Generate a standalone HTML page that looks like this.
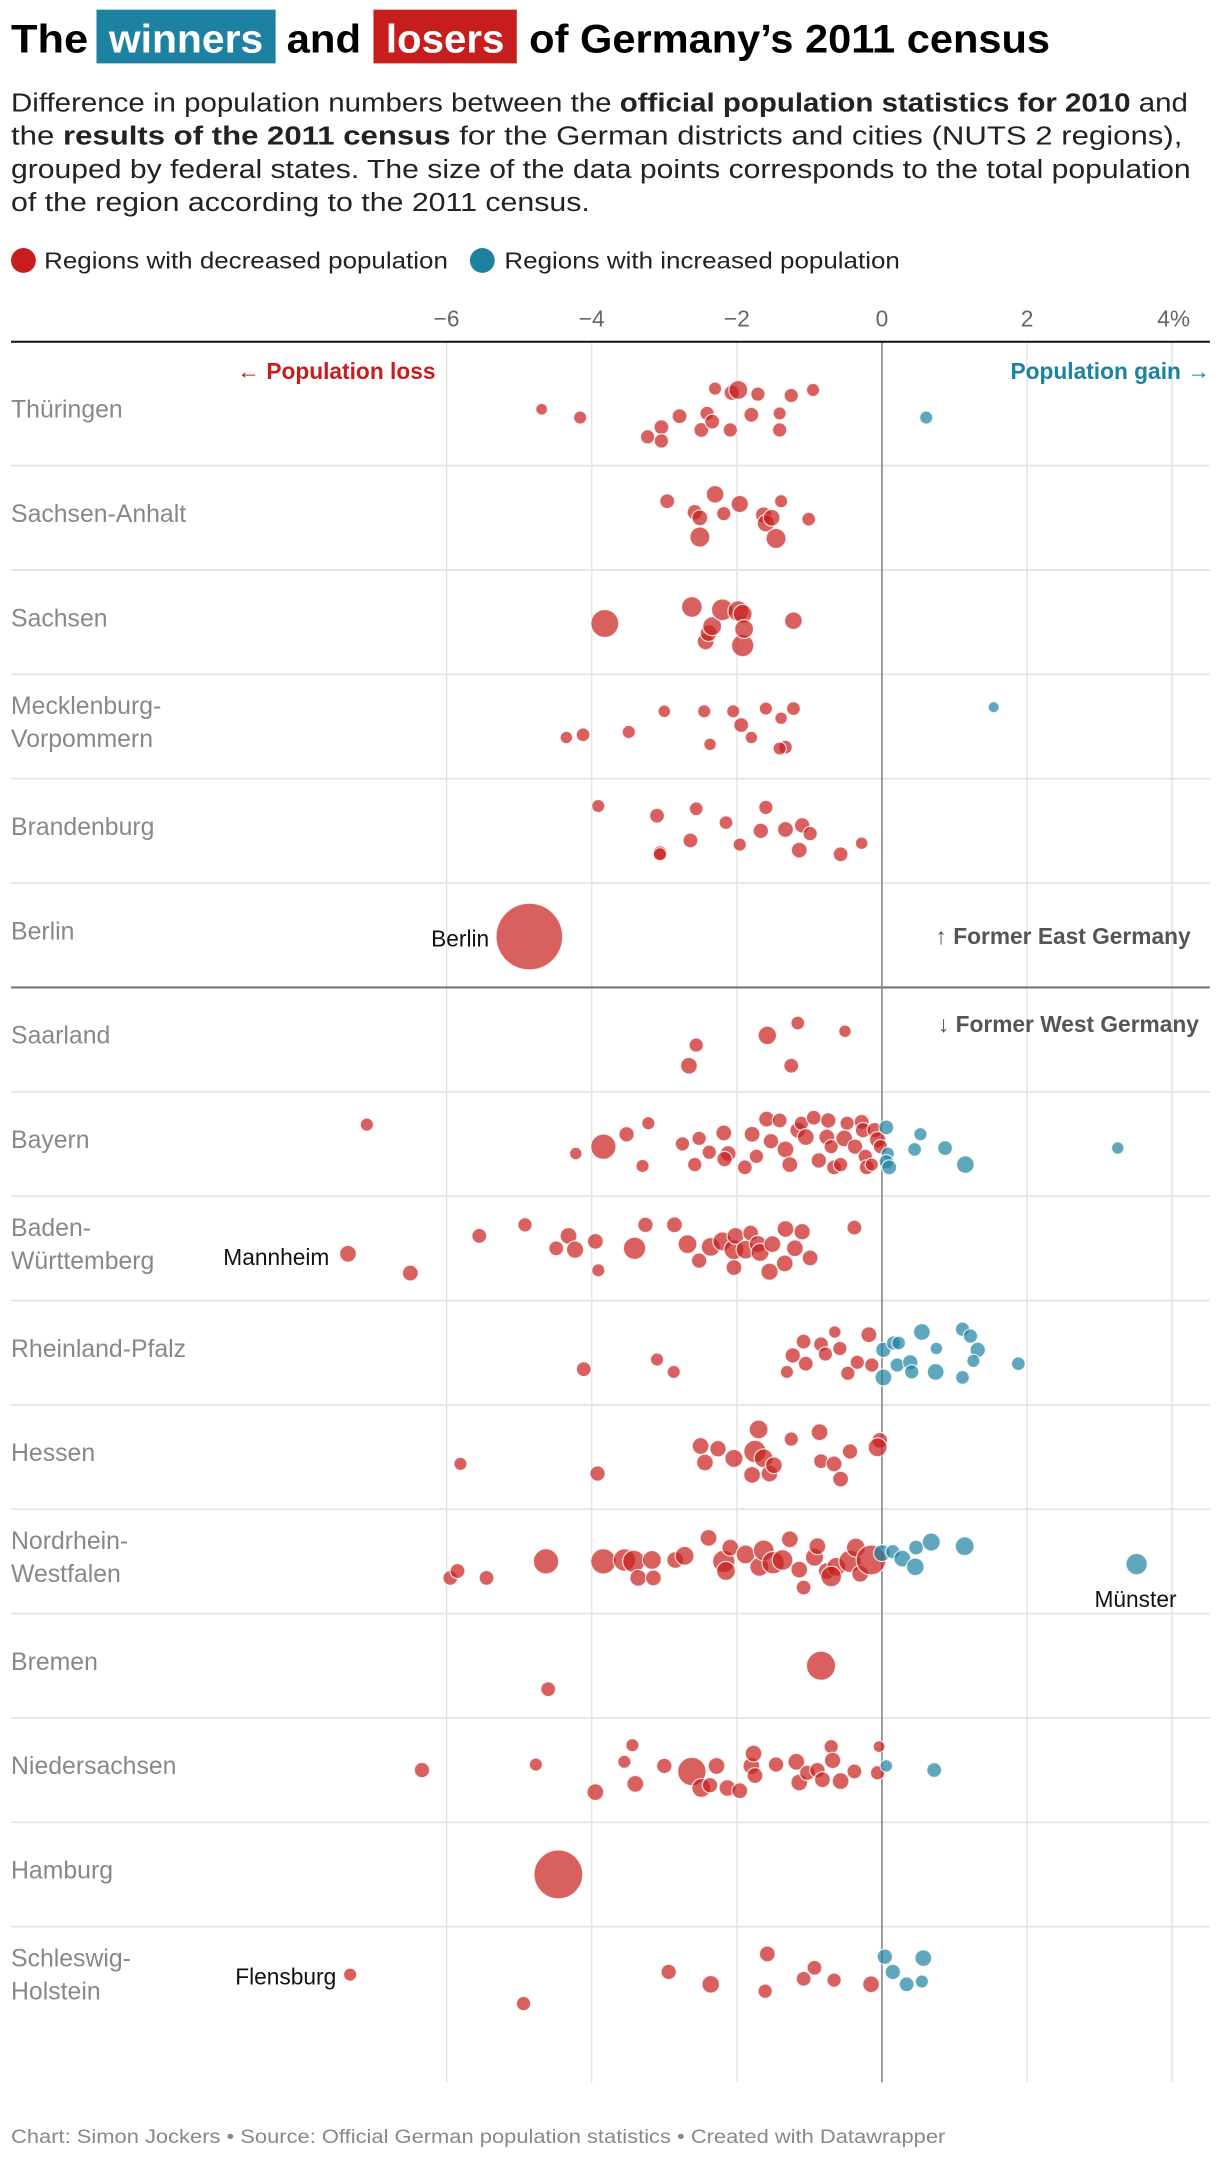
<!DOCTYPE html>
<html><head><meta charset="utf-8"><style>
html,body{margin:0;padding:0;background:#fff;}
svg{display:block;font-family:"Liberation Sans",sans-serif;}
</style></head><body>
<svg id="chart" width="1220" height="2158" viewBox="0 0 885.3 1566" xmlns="http://www.w3.org/2000/svg">
<g>
<text x="8" y="38" font-size="29" font-weight="bold" fill="#000" textLength="56" lengthAdjust="spacingAndGlyphs">The</text>
<rect x="70" y="7" width="130" height="39" fill="#1d81a2"/>
<text x="79" y="38" font-size="29" font-weight="bold" fill="#fff" textLength="112" lengthAdjust="spacingAndGlyphs">winners</text>
<text x="208" y="38" font-size="29" font-weight="bold" fill="#000" textLength="54" lengthAdjust="spacingAndGlyphs">and</text>
<rect x="271" y="7" width="104" height="39" fill="#c71e1d"/>
<text x="280" y="38" font-size="29" font-weight="bold" fill="#fff" textLength="86" lengthAdjust="spacingAndGlyphs">losers</text>
<text x="384" y="38" font-size="29" font-weight="bold" fill="#000" textLength="378" lengthAdjust="spacingAndGlyphs">of Germany’s 2011 census</text>
</g>
<g font-size="19" fill="#222">
<text x="8" y="81" textLength="854" lengthAdjust="spacingAndGlyphs">Difference in population numbers between the <tspan font-weight="bold">official population statistics for 2010</tspan> and</text>
<text x="8" y="105" textLength="850" lengthAdjust="spacingAndGlyphs">the <tspan font-weight="bold">results of the 2011 census</tspan> for the German districts and cities (NUTS 2 regions),</text>
<text x="8" y="129" textLength="856" lengthAdjust="spacingAndGlyphs">grouped by federal states. The size of the data points corresponds to the total population</text>
<text x="8" y="153" textLength="420" lengthAdjust="spacingAndGlyphs">of the region according to the 2011 census.</text>
</g>
<g font-size="17" fill="#222">
<circle cx="17" cy="189" r="9" fill="#c71e1d"/>
<text x="32" y="195" textLength="293" lengthAdjust="spacingAndGlyphs">Regions with decreased population</text>
<circle cx="350" cy="189" r="9" fill="#1d81a2"/>
<text x="366" y="195" textLength="287" lengthAdjust="spacingAndGlyphs">Regions with increased population</text>
</g>
<g id="grid"></g>
<g id="rows"></g>
<g id="dots"></g>
<g id="annos" font-weight="bold" font-size="16.5">
<text x="316" y="275" text-anchor="end" fill="#c71e1d">← Population loss</text>
<text x="878" y="275" text-anchor="end" fill="#1d81a2">Population gain →</text>
<text x="864" y="685" text-anchor="end" fill="#555">↑ Former East Germany</text>
<text x="870" y="749" text-anchor="end" fill="#555">↓ Former West Germany</text>
</g>
<g font-size="16.5" fill="#111">
<text x="355" y="687" text-anchor="end">Berlin</text>
<text x="239" y="918" text-anchor="end">Mannheim</text>
<text x="824" y="1166" text-anchor="middle">Münster</text>
<text x="244" y="1440" text-anchor="end">Flensburg</text>
</g>
<text x="8" y="1555" font-size="14" fill="#888" textLength="678" lengthAdjust="spacingAndGlyphs">Chart: Simon Jockers • Source: Official German population statistics • Created with Datawrapper</text>
</svg>
<script>
const stateNames = [["Thüringen"],["Sachsen-Anhalt"],["Sachsen"],["Mecklenburg-","Vorpommern"],["Brandenburg"],["Berlin"],["Saarland"],["Bayern"],["Baden-","Württemberg"],["Rheinland-Pfalz"],["Hessen"],["Nordrhein-","Westfalen"],["Bremen"],["Niedersachsen"],["Hamburg"],["Schleswig-","Holstein"]];
const tickValues = [-6,-4,-2,0,2,4];
const tickLabels = ["−6","−4","−2","0","2","4%"];
// each point: [change %, population (thousands), jitter lane]
const thueringen = [[-4.69,60,-3],[-4.16,80,3],[-3.23,100,17],[-3.04,110,10],[-3.04,100,20],[-2.79,110,2],[-2.49,110,12],[-2.41,100,0],[-2.34,110,6],[-2.30,80,-18],[-2.09,100,12],[-2.07,120,-15],[-1.98,200,-17],[-1.80,110,1],[-1.71,100,-14],[-1.41,80,0],[-1.41,100,12],[-1.25,100,-13],[-0.95,80,-17],[0.61,80,3]];
const sachsenAnhalt = [[-2.96,110,-12],[-2.58,120,-4],[-2.51,130,0],[-2.51,230,14],[-2.30,170,-17],[-2.18,100,-3],[-1.96,160,-10],[-1.63,140,-2],[-1.60,160,4],[-1.52,150,0],[-1.46,230,15],[-1.39,80,-12],[-1.01,90,1]];
const sachsen = [[-3.82,500,1],[-2.62,250,-11],[-2.43,150,14],[-2.39,150,8],[-2.34,200,3],[-2.20,280,-9],[-1.98,250,-8],[-1.92,200,-6],[-1.92,300,17],[-1.90,200,5],[-1.22,170,-1]];
const mecklenburg = [[-4.35,70,8],[-4.12,90,6],[-3.49,80,4],[-3.00,70,-11],[-2.45,80,-11],[-2.37,70,13],[-2.05,80,-11],[-1.94,110,-1],[-1.80,70,8],[-1.60,80,-13],[-1.39,70,-6],[-1.33,90,15],[-1.41,80,16],[-1.22,90,-13],[1.54,50,-14]];
const brandenburg = [[-3.91,80,-18],[-3.10,110,-11],[-3.06,100,16],[-3.06,80,17],[-2.64,110,7],[-2.56,90,-16],[-2.15,90,-6],[-1.96,80,10],[-1.67,120,0],[-1.60,100,-17],[-1.33,130,-1],[-1.14,130,14],[-1.10,120,-4],[-0.99,100,2],[-0.57,110,17],[-0.28,70,9]];
const berlin = [[-4.86,3300,1]];
const saarland = [[-2.56,100,4],[-2.66,150,19],[-1.58,190,-3],[-1.25,110,19],[-1.16,90,-12],[-0.51,70,-6]];
const bayern = [[-7.10,80,-14],[-3.84,400,2],[-3.52,120,-7],[-3.22,80,-15],[-4.22,70,7],[-3.30,80,16],[-2.75,100,0],[-2.52,100,-4],[-2.58,100,15],[-2.38,100,6],[-2.18,130,-8],[-2.12,130,7],[-2.17,120,11],[-1.89,110,17],[-1.79,130,-7],[-1.73,100,9],[-1.59,130,-18],[-1.53,120,-2],[-1.41,110,-17],[-1.33,150,4],[-1.27,130,15],[-1.16,130,-10],[-1.11,100,-15],[-1.05,150,-5],[-0.94,110,-19],[-0.87,120,12],[-0.74,120,-17],[-0.76,130,-5],[-0.70,100,2],[-0.66,110,17],[-0.57,100,15],[-0.48,100,-15],[-0.52,150,-4],[-0.37,120,2],[-0.28,110,-16],[-0.26,120,-10],[-0.23,100,9],[-0.21,110,17],[-0.10,120,-10],[-0.06,140,-3],[-0.02,100,2],[-0.14,80,15],[0.06,110,-12],[0.08,80,7],[0.06,100,13],[0.10,110,17],[0.53,80,-7],[0.45,90,4],[0.87,110,3],[1.15,170,15],[3.25,70,3]];
const badenWuerttemberg = [[-7.36,150,4],[-6.50,130,18],[-5.55,110,-9],[-4.92,100,-17],[-4.49,110,0],[-4.32,150,-9],[-4.23,160,1],[-3.95,130,-5],[-3.91,80,16],[-3.41,300,0],[-3.26,120,-17],[-2.86,130,-17],[-2.68,200,-3],[-2.52,120,9],[-2.36,200,-1],[-2.20,200,-5],[-2.04,230,1],[-2.04,130,14],[-2.02,150,-9],[-1.81,130,-11],[-1.88,200,1],[-1.71,160,-3],[-1.68,180,3],[-1.51,150,-3],[-1.55,160,17],[-1.33,150,-14],[-1.10,140,-12],[-1.20,150,0],[-1.34,150,11],[-0.99,130,7],[-0.38,110,-15]];
const rheinlandPfalz = [[-4.11,110,12],[-3.10,80,5],[-2.87,80,14],[-1.31,80,14],[-1.23,120,2],[-1.05,110,8],[-1.08,110,-8],[-0.84,110,-6],[-0.78,100,1],[-0.65,70,-15],[-0.58,100,-3],[-0.47,100,15],[-0.34,100,7],[-0.18,130,-13],[-0.14,100,9],[0.02,120,-2],[0.16,100,-7],[0.23,90,-7],[0.02,150,18],[0.21,100,9],[0.39,120,7],[0.41,100,14],[0.55,150,-15],[0.75,70,-3],[0.74,150,14],[1.11,100,-17],[1.22,100,-12],[1.32,120,-2],[1.26,80,6],[1.11,90,18],[1.88,90,8]];
const hessen = [[-5.81,80,5],[-3.92,120,12],[-2.50,150,-8],[-2.44,150,4],[-2.26,140,-6],[-2.04,180,1],[-1.70,200,-20],[-1.75,300,-4],[-1.63,200,1],[-1.55,150,12],[-1.79,150,13],[-1.49,150,6],[-1.25,100,-13],[-0.86,150,-18],[-0.84,110,3],[-0.66,130,5],[-0.57,130,16],[-0.44,120,-4],[-0.03,130,-12],[-0.06,200,-7]];
const nordrheinWestfalen = [[-5.95,110,12],[-5.85,110,7],[-5.45,110,12],[-4.63,400,0],[-3.84,400,0],[-3.55,300,-1],[-3.42,300,0],[-3.36,150,12],[-3.15,130,12],[-3.17,200,-1],[-2.85,150,-1],[-2.72,200,-4],[-2.39,150,-17],[-2.18,300,0],[-2.15,200,7],[-2.09,150,-10],[-1.88,200,-5],[-1.69,200,4],[-1.63,250,-8],[-1.50,300,1],[-1.37,250,-1],[-1.27,150,-16],[-1.14,150,6],[-1.08,110,19],[-0.93,180,-3],[-0.89,150,-11],[-0.76,150,7],[-0.63,200,4],[-0.70,250,11],[-0.44,300,0],[-0.36,200,-10],[-0.30,150,9],[-0.15,580,-1],[0.00,150,-6],[0.15,100,-7],[0.28,150,-2],[0.47,110,-10],[0.46,170,4],[0.68,180,-14],[1.14,200,-11],[3.51,270,2]];
const bremen = [[-4.60,110,17],[-0.84,550,0]];
const niedersachsen = [[-6.34,120,0],[-4.77,80,-4],[-3.95,150,16],[-3.55,80,-6],[-3.44,80,-18],[-3.40,150,10],[-3.00,120,-3],[-2.62,520,1],[-2.49,200,13],[-2.37,120,11],[-2.28,150,-3],[-2.13,150,13],[-1.96,130,15],[-1.80,150,-3],[-1.75,130,4],[-1.77,150,-12],[-1.46,120,-4],[-1.18,150,-6],[-1.14,150,9],[-1.03,120,2],[-0.89,120,0],[-0.82,130,7],[-0.70,100,-17],[-0.68,140,-7],[-0.57,150,8],[-0.38,110,1],[-0.04,60,-17],[-0.06,100,2],[0.06,70,-3],[0.72,110,0]];
const hamburg = [[-4.46,1700,0]];
const schleswigHolstein = [[-7.33,80,-3],[-4.94,100,18],[-2.94,120,-5],[-2.36,170,4],[-1.58,130,-18],[-1.61,100,9],[-1.08,110,0],[-0.93,110,-8],[-0.66,100,1],[-0.15,150,4],[0.04,120,-16],[0.15,120,-5],[0.34,110,4],[0.57,150,-15],[0.55,80,2]];
const rowPoints = [thueringen,sachsenAnhalt,sachsen,mecklenburg,brandenburg,berlin,saarland,bayern,badenWuerttemberg,rheinlandPfalz,hessen,nordrheinWestfalen,bremen,niedersachsen,hamburg,schleswigHolstein];

const NS = "http://www.w3.org/2000/svg";
const X0 = 640, PX = 52.65;
function xScale(v){ return X0 + v*PX; }
const ROW0 = 300, ROWH = 75.73;
function rowY(i){ return ROW0 + i*ROWH; }
function rScale(p){ return 1.2 + 0.4*Math.sqrt(p); }
function mk(tag, attrs, parent){ const e=document.createElementNS(NS,tag); for(const k in attrs) e.setAttribute(k,attrs[k]); parent.appendChild(e); return e; }

const grid = document.getElementById('grid');
tickValues.forEach((t,i)=>{
  const gx = xScale(t);
  if(t!==0){
    const gl = mk('line',{x1:gx,x2:gx,y1:248,y2:1511,stroke:'#e3e3e3','stroke-width':1},grid);
    
    
  }
  const tl = mk('text',{x: i===tickValues.length-1 ? gx+13 : gx, y:237,'font-size':16.5,fill:'#666','text-anchor': i===tickValues.length-1?'end':'middle'},grid);
  tl.textContent = tickLabels[i];
  
  
});
for(let i=0;i<stateNames.length-1;i++){
  const sy = rowY(i)+37.9;
  const sl = mk('line',{x1:8,x2:878,y1:sy,y2:sy,stroke:i===5?'#777':'#e3e3e3','stroke-width':i===5?1.5:1.2},grid);
  
  
}
const zl = mk('line',{x1:xScale(0),x2:xScale(0),y1:248,y2:1511,stroke:'#888','stroke-width':1.2},grid);


const ax = mk('line',{x1:8,x2:878,y1:248,y2:248,stroke:'#111','stroke-width':1.5},grid);



const rows = document.getElementById('rows');
stateNames.forEach((lines,i)=>{
  const cy = rowY(i);
  const t = mk('text',{x:8,'font-size':18,fill:'#888'},rows);
  
  
  lines.forEach((ln,j)=>{
    const ts = mk('tspan',{x:8,y: cy + 3 + (lines.length===2 ? (j===0?-12:12) : 0)},t);
    ts.textContent = ln;
  });
});

const dots = document.getElementById('dots');
rowPoints.forEach((pts,i)=>{
  const cy = rowY(i);
  pts.forEach(p=>{
    const c = mk('circle',{cx:xScale(p[0]),cy:cy+p[2],r:rScale(p[1]),fill:p[0]>=0?'#1d81a2':'#c71e1d','fill-opacity':0.7,stroke:'#fff','stroke-opacity':0.8,'stroke-width':0.9},dots);
    
    
  });
});
</script>
</body></html>
